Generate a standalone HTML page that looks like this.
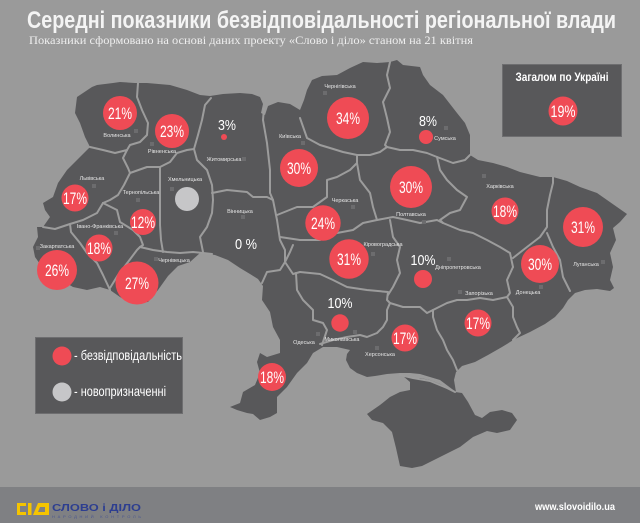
<!DOCTYPE html>
<html><head><meta charset="utf-8"><style>
html,body{margin:0;padding:0;background:#9a9a9a;}
svg{display:block;}
text{font-family:"Liberation Sans","DejaVu Sans",sans-serif;}
</style></head><body>
<svg width="640" height="523" viewBox="0 0 640 523" xmlns="http://www.w3.org/2000/svg">
<rect x="0" y="0" width="640" height="523" fill="#9a9a9a"/>
<rect x="0" y="487" width="640" height="36" fill="#7f8083"/>

<!-- Title -->
<text x="27" y="28" font-size="24" font-weight="bold" fill="#f4f4f4" textLength="589" lengthAdjust="spacingAndGlyphs">Середні показники безвідповідальності регіональної влади</text>
<text x="29" y="44" style="font-family:'Liberation Serif',serif" font-size="12" fill="#eeeeee" textLength="444" lengthAdjust="spacingAndGlyphs">Показники сформовано на основі даних проекту «Слово і діло» станом на 21 квітня</text>

<!-- Map silhouette -->
<path fill="#58585a" d="M92,87 L97,85 L113,83 L120,82 L135,83 L147,83 L170,85 L187,90 L200,95 L210,96 L223,94 L240,93 L252,94 L260,97 L263,104 L261,113 L265,115 L268,106 L278,102 L290,104 L300,110 L304,100 L307,90 L312,80 L322,76 L337,75 L350,68 L363,62 L377,63 L390,62 L397,60 L403,65 L420,67 L423,75 L430,85 L443,95 L457,113 L465,123 L470,135 L470,155 L478,160 L493,163 L507,167 L520,172 L540,177 L553,177 L567,181 L580,187 L597,193 L607,200 L617,207 L627,214 L620,222 L613,228 L616,240 L610,253 L613,267 L610,280 L614,288 L610,291 L597,289 L585,290 L575,293 L568,300 L563,308 L555,317 L545,324 L530,332 L515,339 L502,347 L488,355 L475,362 L462,366 L456,372 L454,380 L456,392 L448,386 L440,380 L430,377 L420,374 L410,373 L400,373 L387,374 L375,376 L367,377 L357,373 L350,368 L346,360 L347,354 L350,350 L337,347 L323,347 L313,353 L307,363 L297,373 L287,387 L277,397 L277,413 L270,417 L260,420 L253,414 L247,413 L237,410 L230,407 L240,403 L243,392 L255,385 L260,373 L257,362 L260,353 L267,357 L280,353 L280,340 L273,327 L270,312 L262,300 L263,286 L258,279 L250,274 L240,268 L228,260 L215,255 L200,253 L190,262 L178,266 L168,276 L158,290 L148,302 L130,303 L120,297 L110,290 L100,287 L87,290 L73,287 L63,281 L50,273 L40,264 L35,257 L33,247 L38,237 L37,227 L43,227 L50,217 L45,210 L43,203 L53,197 L58,183 L67,170 L77,160 L87,150 L90,147 L85,137 L80,123 L75,113 L77,97 Z"/>
<!-- Crimea -->
<path fill="#58585a" d="M403,376 L410,382 L410,390 L400,392 L390,397 L380,405 L367,414 L372,420 L383,423 L392,432 L396,448 L400,466 L412,468 L422,466 L440,457 L460,447 L473,437 L487,431 L497,433 L510,430 L517,420 L512,413 L502,410 L490,412 L482,418 L475,415 L468,402 L462,393 L455,392 L448,388 L440,384 L430,380 L420,378 L413,378 Z"/>

<!-- Region borders -->
<g fill="none" stroke="#9c9c9c" stroke-width="2" stroke-linejoin="round" stroke-linecap="round">
<polyline points="138,83 137,97 142,110 148,123 147,135 140,142 130,145 127,150"/>
<polyline points="90,147 103,150 115,153 127,150"/>
<polyline points="127,150 123,158 128,168 130,173 124,185 118,195 110,200 103,203"/>
<polyline points="130,173 147,167 160,167 170,162 177,153 187,150 194,149"/>
<polyline points="211,98 205,105 202,120 198,135 194,149"/>
<polyline points="160,167 160,185 160,205 160,225 161,240 163,252"/>
<polyline points="194,149 197,160 207,170 212,185 213,200 212,213 207,227 200,237 203,252"/>
<polyline points="140,247 153,250 167,252 180,253 193,252 203,253 212,254"/>
<polyline points="103,203 97,213 83,220 70,224 55,229 43,227"/>
<polyline points="103,203 117,210 120,222 133,230 140,237 143,245 140,247"/>
<polyline points="70,224 71,232 80,243 87,253 97,263 103,275 110,290"/>
<polyline points="110,288 118,275 128,262 137,250 140,247"/>
<polyline points="212,193 227,190 247,192 253,197 267,197 273,200"/>
<polyline points="264,108 263,120 267,143 270,170 270,193 273,200"/>
<polyline points="273,200 277,220 280,240 285,250 285,262"/>
<polyline points="277,215 297,207 313,207 327,197 327,180 337,177 350,170 357,163"/>
<polyline points="300,118 307,138 320,145 330,148 343,152 357,155 370,155 380,152 387,147"/>
<polyline points="357,155 357,163 360,180 370,193 373,207 377,220"/>
<polyline points="390,62 387,75 390,88 383,102 387,118 390,132 385,145 387,147"/>
<polyline points="387,147 400,150 413,150 427,153 437,157 453,163 465,160 470,155"/>
<polyline points="437,157 440,170 447,180 457,190 467,197 460,210 450,213 440,220 443,223"/>
<polyline points="280,237 300,240 320,240 337,233 353,230 363,223 377,220"/>
<polyline points="377,220 393,217 407,220 420,223 437,220 443,223"/>
<polyline points="443,223 460,230 473,233 487,240 500,247 510,253 513,267"/>
<polyline points="513,258 527,247 540,237 547,227 547,210 550,195 553,183 553,177"/>
<polyline points="547,233 553,247 560,260 563,277 570,291"/>
<polyline points="513,267 507,280 510,293 507,297"/>
<polyline points="433,310 447,303 457,300 467,300 480,298 493,300 507,297"/>
<polyline points="507,297 513,307 513,317 517,327 520,333 513,340"/>
<polyline points="390,220 393,237 400,247 397,260 400,273 393,287 388,295"/>
<polyline points="300,272 320,274 333,280 347,287 367,290 388,292 387,300 390,303"/>
<polyline points="390,303 403,307 420,307 427,313 433,310"/>
<polyline points="320,344 333,340 347,337 360,335 367,337 377,333 383,327 387,320 387,310 390,303"/>
<polyline points="433,310 433,317 437,330 443,340 447,350 453,360 457,370"/>
<polyline points="262,283 267,272 280,270 285,262 290,252 293,245"/>
<polyline points="285,262 293,274 300,272"/>
<polyline points="296,273 297,290 303,300 313,310 313,320 323,323 327,330 322,345"/>
<polyline points="400,375 413,378 430,381 447,388 455,392"/>
</g>

<!-- Region labels -->
<g fill="#6c6c6e">
<rect x="134" y="129" width="4" height="4"/><rect x="150" y="142" width="4" height="4"/>
<rect x="242" y="157" width="4" height="4"/><rect x="301" y="141" width="4" height="4"/>
<rect x="323" y="91" width="4" height="4"/><rect x="444" y="126" width="4" height="4"/>
<rect x="92" y="184" width="4" height="4"/><rect x="136" y="198" width="4" height="4"/>
<rect x="170" y="187" width="4" height="4"/><rect x="241" y="215" width="4" height="4"/>
<rect x="114" y="231" width="4" height="4"/><rect x="36" y="246" width="4" height="4"/>
<rect x="154" y="257" width="4" height="4"/><rect x="351" y="205" width="4" height="4"/>
<rect x="422" y="220" width="4" height="4"/><rect x="482" y="174" width="4" height="4"/>
<rect x="371" y="252" width="4" height="4"/><rect x="447" y="257" width="4" height="4"/>
<rect x="601" y="260" width="4" height="4"/><rect x="539" y="285" width="4" height="4"/>
<rect x="458" y="290" width="4" height="4"/><rect x="353" y="330" width="4" height="4"/>
<rect x="375" y="346" width="4" height="4"/><rect x="316" y="332" width="4" height="4"/>
</g>
<g fill="#e6e6e6" font-size="5.5" text-anchor="middle">
<text x="117" y="137">Волинська</text>
<text x="162" y="153">Рівненська</text>
<text x="224" y="161">Житомирська</text>
<text x="290" y="138">Київська</text>
<text x="340" y="88">Чернігівська</text>
<text x="445" y="140">Сумська</text>
<text x="92" y="180">Львівська</text>
<text x="141" y="194">Тернопільська</text>
<text x="185" y="181">Хмельницька</text>
<text x="240" y="213">Вінницька</text>
<text x="100" y="228">Івано-Франківська</text>
<text x="57" y="248">Закарпатська</text>
<text x="174" y="262">Чернівецька</text>
<text x="345" y="202">Черкаська</text>
<text x="411" y="216">Полтавська</text>
<text x="500" y="188">Харківська</text>
<text x="383" y="246">Кіровоградська</text>
<text x="458" y="269">Дніпропетровська</text>
<text x="586" y="266">Луганська</text>
<text x="528" y="294">Донецька</text>
<text x="479" y="295">Запорізька</text>
<text x="342" y="341">Миколаївська</text>
<text x="380" y="356">Херсонська</text>
<text x="304" y="344">Одеська</text>
</g>

<!-- Circles -->
<g fill="#ef4b55">
<circle cx="120" cy="113" r="17"/>
<circle cx="172" cy="131" r="17"/>
<circle cx="299" cy="168" r="19"/>
<circle cx="75" cy="198" r="13.5"/>
<circle cx="143" cy="222" r="13"/>
<circle cx="99" cy="248" r="13.5"/>
<circle cx="57" cy="270" r="20"/>
<circle cx="137" cy="283" r="21.5"/>
<circle cx="323" cy="223" r="17.7"/>
<circle cx="348" cy="118" r="21"/>
<circle cx="411" cy="187" r="21"/>
<circle cx="505" cy="211" r="13.5"/>
<circle cx="583" cy="227" r="20"/>
<circle cx="540" cy="264" r="19"/>
<circle cx="349" cy="259" r="19.7"/>
<circle cx="405" cy="338" r="13.5"/>
<circle cx="478" cy="323" r="13.5"/>
<circle cx="272" cy="377" r="14"/>
<circle cx="224" cy="137" r="3"/>
<circle cx="426" cy="137" r="7"/>
<circle cx="423" cy="279" r="9"/>
<circle cx="340" cy="323" r="8.7"/>
</g>
<circle cx="187" cy="199" r="12" fill="#c6c6c8"/>

<g fill="#ffffff" font-size="17" text-anchor="middle">
<text x="120" y="119" textLength="24" lengthAdjust="spacingAndGlyphs">21%</text>
<text x="172" y="137" textLength="24" lengthAdjust="spacingAndGlyphs">23%</text>
<text x="299" y="174" textLength="24" lengthAdjust="spacingAndGlyphs">30%</text>
<text x="75" y="204" textLength="24" lengthAdjust="spacingAndGlyphs">17%</text>
<text x="143" y="228" textLength="24" lengthAdjust="spacingAndGlyphs">12%</text>
<text x="99" y="254" textLength="24" lengthAdjust="spacingAndGlyphs">18%</text>
<text x="57" y="276" textLength="24" lengthAdjust="spacingAndGlyphs">26%</text>
<text x="137" y="289" textLength="24" lengthAdjust="spacingAndGlyphs">27%</text>
<text x="323" y="229" textLength="24" lengthAdjust="spacingAndGlyphs">24%</text>
<text x="348" y="124" textLength="24" lengthAdjust="spacingAndGlyphs">34%</text>
<text x="411" y="193" textLength="24" lengthAdjust="spacingAndGlyphs">30%</text>
<text x="505" y="217" textLength="24" lengthAdjust="spacingAndGlyphs">18%</text>
<text x="583" y="233" textLength="24" lengthAdjust="spacingAndGlyphs">31%</text>
<text x="540" y="270" textLength="24" lengthAdjust="spacingAndGlyphs">30%</text>
<text x="349" y="265" textLength="24" lengthAdjust="spacingAndGlyphs">31%</text>
<text x="405" y="344" textLength="24" lengthAdjust="spacingAndGlyphs">17%</text>
<text x="478" y="329" textLength="24" lengthAdjust="spacingAndGlyphs">17%</text>
<text x="272" y="383" textLength="24" lengthAdjust="spacingAndGlyphs">18%</text>
<text x="227" y="130" font-size="15" textLength="18" lengthAdjust="spacingAndGlyphs">3%</text>
<text x="428" y="126" font-size="15" textLength="18" lengthAdjust="spacingAndGlyphs">8%</text>
<text x="423" y="265" font-size="15" textLength="25" lengthAdjust="spacingAndGlyphs">10%</text>
<text x="340" y="308" font-size="15" textLength="25" lengthAdjust="spacingAndGlyphs">10%</text>
<text x="246" y="249" font-size="15" textLength="22" lengthAdjust="spacingAndGlyphs">0 %</text>
</g>

<!-- Total box -->
<rect x="502.5" y="64.5" width="119" height="72" fill="#58585a" stroke="#6e6e70" stroke-width="1"/>
<text x="562" y="81" font-size="12" font-weight="bold" fill="#ffffff" text-anchor="middle" textLength="93" lengthAdjust="spacingAndGlyphs">Загалом по Україні</text>
<circle cx="563" cy="111" r="14.5" fill="#ef4b55"/>
<text x="563" y="117" font-size="17" fill="#ffffff" text-anchor="middle" textLength="25" lengthAdjust="spacingAndGlyphs">19%</text>

<!-- Legend -->
<rect x="35.5" y="337.5" width="147" height="76" fill="#58585a" stroke="#6e6e70" stroke-width="1"/>
<circle cx="62" cy="356" r="9.5" fill="#ef4b55"/>
<circle cx="62" cy="392" r="9.5" fill="#c6c6c8"/>
<text x="74" y="360" font-size="14" fill="#ffffff" textLength="108" lengthAdjust="spacingAndGlyphs">- безвідповідальність</text>
<text x="74" y="396" font-size="14" fill="#ffffff" textLength="92" lengthAdjust="spacingAndGlyphs">- новопризначенні</text>

<!-- Footer logo -->
<path fill="#f5c400" d="M17,503 h9 v3 h-6 v6 h6 v3 h-9 z"/>
<rect x="28" y="503" width="3.5" height="12" fill="#f5c400"/>
<path fill="#f5c400" d="M38,503 H49 V515 H33 Z"/>
<path fill="#7f8083" d="M40,507 H45 V512 H38 Z"/>
<text x="52" y="511" font-size="10.5" font-weight="bold" fill="#2d3e90" textLength="89" lengthAdjust="spacingAndGlyphs">СЛОВО і ДІЛО</text>
<text x="52" y="518" font-size="4" fill="#4a5690" textLength="89" lengthAdjust="spacing">НАРОДНИЙ КОНТРОЛЬ</text>
<text x="535" y="510" font-size="10" font-weight="bold" fill="#ffffff" textLength="80" lengthAdjust="spacingAndGlyphs">www.slovoidilo.ua</text>
</svg>
</body></html>
